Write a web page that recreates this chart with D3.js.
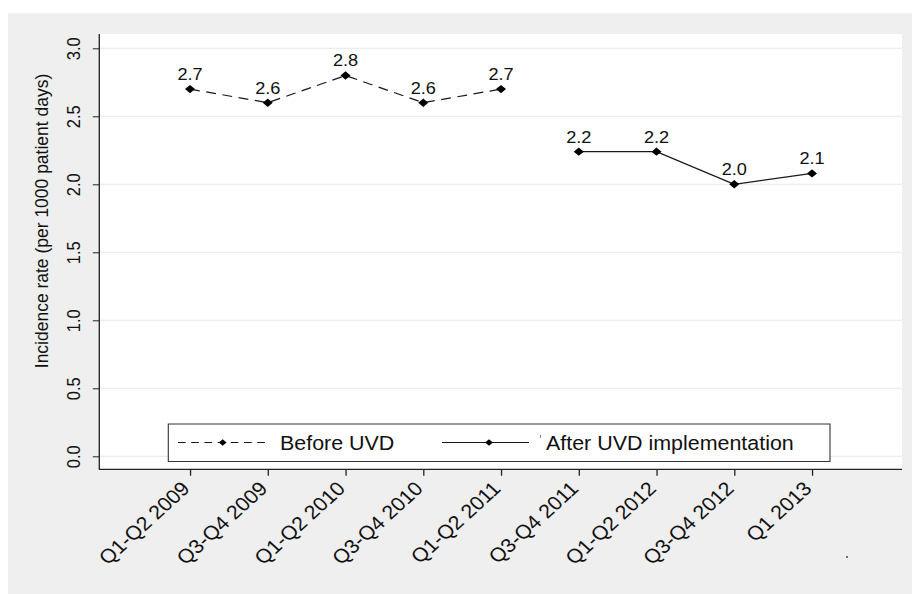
<!DOCTYPE html>
<html><head><meta charset="utf-8">
<script src="https://cdn.jsdelivr.net/npm/d3@7"></script>
<style>
body{margin:0;background:#fff}
svg{display:block}
text{font-family:"Liberation Sans",Arial,sans-serif;fill:#111}
</style>
</head><body><div id="chart"></div>
<script>
const categories = ["Q1-Q2 2009","Q3-Q4 2009","Q1-Q2 2010","Q3-Q4 2010","Q1-Q2 2011","Q3-Q4 2011","Q1-Q2 2012","Q3-Q4 2012","Q1 2013"];
const beforeCats = ["Q1-Q2 2009","Q3-Q4 2009","Q1-Q2 2010","Q3-Q4 2010","Q1-Q2 2011"];
const beforeValues = [2.70, 2.60, 2.80, 2.60, 2.70];
const afterCats = ["Q3-Q4 2011","Q1-Q2 2012","Q3-Q4 2012","Q1 2013"];
const afterValues = [2.24, 2.24, 2.00, 2.08];
const yTicks = [0, 0.5, 1, 1.5, 2, 2.5, 3];
const yTitle = "Incidence rate (per 1000 patient days)";
const legendLabels = ["Before UVD", "After UVD implementation"];

const sx = 1.1;                 // horizontal stretch of the original picture
const X = px => px / sx;
const VW = 912 / sx, VH = 594;

const svg = d3.select("#chart").append("svg")
  .attr("width", 912).attr("height", 594)
  .attr("viewBox", `0 0 ${VW} ${VH}`)
  .attr("preserveAspectRatio", "none");

// outer graph region
svg.append("rect").attr("x", X(8)).attr("y", 13).attr("width", X(912 - 8)).attr("height", 594 - 13)
  .attr("fill", "#efefef");
// plot region
const plotL = X(99.5), plotR = X(902), plotT = 34, plotB = 469.5;
svg.append("rect").attr("x", plotL).attr("y", plotT).attr("width", plotR - plotL).attr("height", plotB - plotT)
  .attr("fill", "#fff");

const y = d3.scaleLinear().domain([0, 3]).range([456.3, 48.3]);
const x = d3.scalePoint().domain(categories).range([X(190), X(812)]);

// gridlines
svg.append("g").selectAll("line").data(yTicks).join("line")
  .attr("x1", plotL + 0.5).attr("x2", plotR)
  .attr("y1", d => y(d)).attr("y2", d => y(d))
  .attr("stroke", "#e6e6e6").attr("stroke-width", 1);

// y axis
const yAxis = svg.append("g").attr("transform", `translate(${X(99.3)},0)`)
  .call(d3.axisLeft(y).tickValues(yTicks).tickSize(X(6.5)).tickSizeOuter(0).tickFormat(d3.format(".1f")));
yAxis.select(".domain").remove();
yAxis.selectAll(".tick line").attr("stroke", "#222").attr("stroke-width", 1);
yAxis.selectAll(".tick text")
  .attr("x", null).attr("dy", null).attr("y", null)
  .attr("transform", `translate(${X(80) - X(99.3)},0) rotate(-90)`)
  .attr("text-anchor", "middle")
  .style("font-family", '"Liberation Sans",Arial,sans-serif')
  .style("font-size", "16.5px").attr("fill", "#111");
svg.append("line").attr("x1", X(99.3)).attr("x2", X(99.3)).attr("y1", plotT).attr("y2", plotB)
  .attr("stroke", "#222").attr("stroke-width", 1.2);

svg.append("text").attr("transform", `translate(${X(48)},221) rotate(-90)`)
  .attr("text-anchor", "middle").style("font-size", "17.5px").text(yTitle);

// x axis
const xAxis = svg.append("g").attr("transform", `translate(0,469.3)`)
  .call(d3.axisBottom(x).tickSize(6.5).tickSizeOuter(0));
xAxis.select(".domain").remove();
xAxis.selectAll(".tick line").attr("stroke", "#222").attr("stroke-width", X(1.3));
xAxis.selectAll(".tick text")
  .attr("x", null).attr("y", null).attr("dy", null)
  .attr("transform", `translate(${X(0.5)},20.5) rotate(-45)`)
  .attr("text-anchor", "end")
  .style("font-family", '"Liberation Sans",Arial,sans-serif')
  .style("font-size", "19.5px").attr("fill", "#111");
svg.append("line").attr("x1", X(99)).attr("x2", plotR).attr("y1", 469.3).attr("y2", 469.3)
  .attr("stroke", "#222").attr("stroke-width", 1.2);

// series
const diamond = (rx, ry) => `M0,${-ry}L${rx},0L0,${ry}L${-rx},0Z`;
const line = d3.line().x(d => x(d[0])).y(d => y(d[1]));
const beforeData = beforeCats.map((c, i) => [c, beforeValues[i]]);
const afterData = afterCats.map((c, i) => [c, afterValues[i]]);

svg.append("path").datum(beforeData).attr("d", line)
  .attr("fill", "none").attr("stroke", "#1a1a1a").attr("stroke-width", 1.2)
  .attr("stroke-dasharray", "9,6");
svg.append("path").datum(afterData).attr("d", line)
  .attr("fill", "none").attr("stroke", "#1a1a1a").attr("stroke-width", 1.3);

const fmt = d3.format(".1f");
[beforeData, afterData].forEach(data => {
  svg.append("g").selectAll("path").data(data).join("path")
    .attr("transform", d => `translate(${x(d[0])},${y(d[1])})`)
    .attr("d", diamond(X(5), 4.2)).attr("fill", "#000");
  svg.append("g").selectAll("text").data(data).join("text")
    .attr("x", d => x(d[0])).attr("y", d => y(d[1]) - 9)
    .attr("text-anchor", "middle").style("font-size", "16.5px")
    .text(d => fmt(d[1]));
});

// legend
const lg = svg.append("g");
lg.append("rect").attr("x", X(168.3)).attr("y", 424).attr("width", X(830) - X(168.3)).attr("height", 37.5)
  .attr("fill", "#fff").attr("stroke", "#333").attr("stroke-width", 1);
const legendItems = [
  {x0: 178, x1: 265, m: 222.7, tx: 280, dash: "7,5"},
  {x0: 442, x1: 529, m: 489, tx: 546, dash: null}
];
legendItems.forEach((it, i) => {
  lg.append("line").attr("x1", X(it.x0)).attr("x2", X(it.x1)).attr("y1", 442.5).attr("y2", 442.5)
    .attr("stroke", "#1a1a1a").attr("stroke-width", 1.2)
    .attr("stroke-dasharray", it.dash);
  lg.append("path").attr("transform", `translate(${X(it.m)},442.5)`)
    .attr("d", diamond(X(3.8), 3.2)).attr("fill", "#000");
  lg.append("text").attr("x", X(it.tx)).attr("y", 450).style("font-size", "19.5px").text(legendLabels[i]);
});
// small specks present in the original picture
lg.append("line").attr("x1", X(540.5)).attr("x2", X(540.3)).attr("y1", 435).attr("y2", 438)
  .attr("stroke", "#666").attr("stroke-width", 0.8);
svg.append("circle").attr("cx", X(847)).attr("cy", 557).attr("r", 0.9).attr("fill", "#444");
</script>
</body></html>
